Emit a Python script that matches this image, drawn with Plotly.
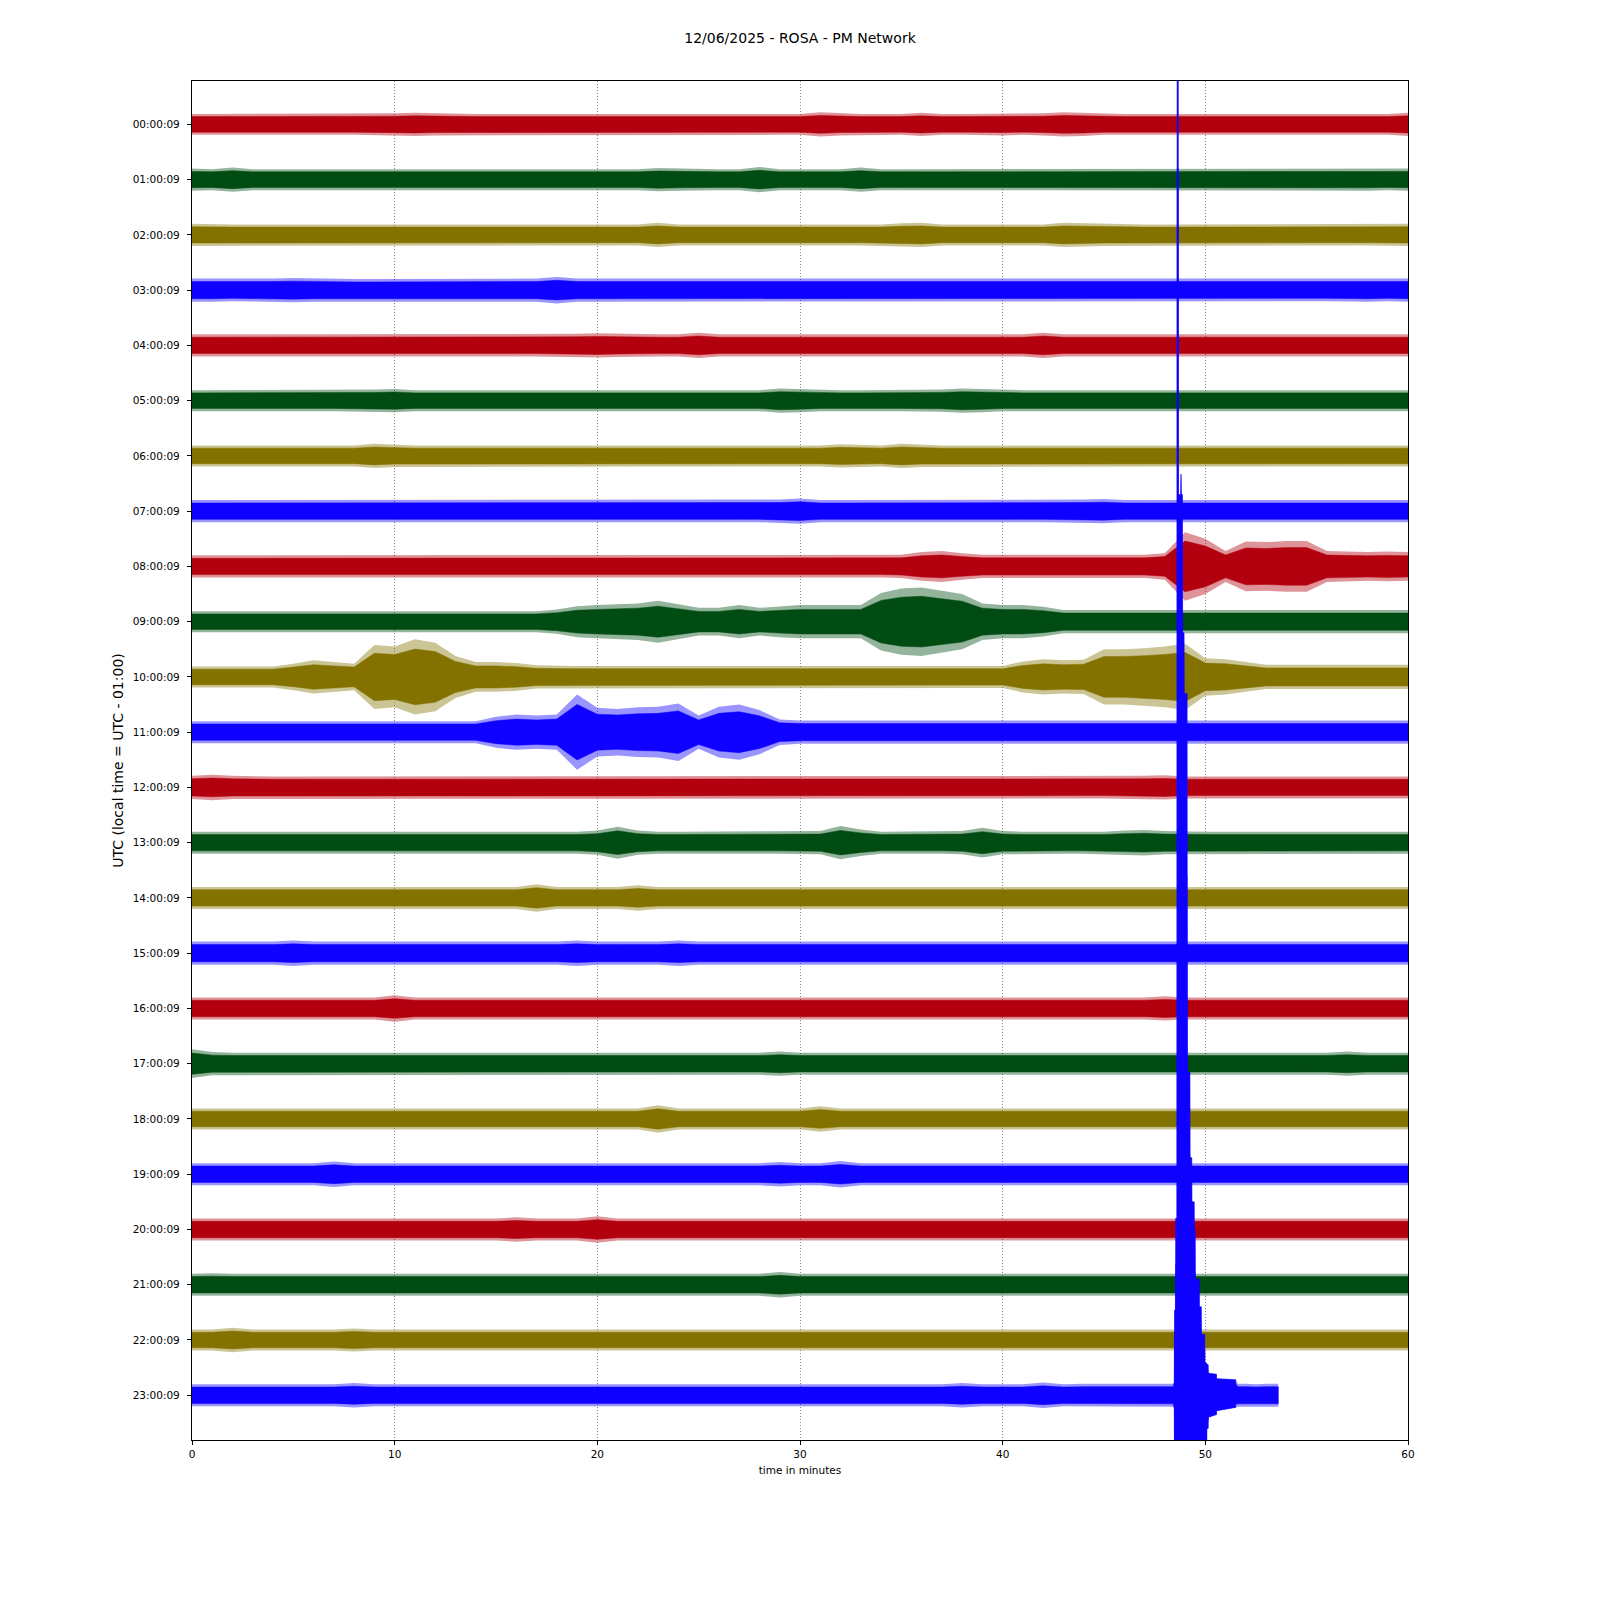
import plotly.graph_objects as go

# ---------------- data ----------------
minutes = list(range(61))

hour_labels = ["00:00:09", "01:00:09", "02:00:09", "03:00:09", "04:00:09", "05:00:09",
               "06:00:09", "07:00:09", "08:00:09", "09:00:09", "10:00:09", "11:00:09",
               "12:00:09", "13:00:09", "14:00:09", "15:00:09", "16:00:09", "17:00:09",
               "18:00:09", "19:00:09", "20:00:09", "21:00:09", "22:00:09", "23:00:09"]

trace_colors = ["#B2000F", "#004C12", "#847200", "#0E01FF"]

# half-amplitude envelope of each hourly line, per minute, in 1/100 of the line spacing
amp_00 = [19,19,20,19,19,19,19,19,19,20, 20,21,20,19,19,19,19,19,19,19, 20,19,19,19,19,19,19,19,19,19,
          19,22,20,19,19,19,21,19,19,19, 20,19,20,22,21,19,19,19,19,19, 19,19,19,19,20,20,19,19,19,19, 21]
amp_01 = [20,19,22,19,19,19,19,19,19,19, 19,19,19,19,19,19,19,19,19,19, 19,19,19,21,20,19,19,19,23,19,
          19,19,19,22,19,19,19,19,19,19, 19,19,19,19,19,19,19,19,20,19, 19,19,19,19,19,19,19,20,20,19, 20]
amp_02 = [20,19,19,19,19,19,19,19,19,19, 20,19,19,19,19,19,19,19,19,19, 19,19,19,22,19,19,19,19,19,19,
          19,19,19,19,19,21,22,19,19,19, 19,19,19,22,21,20,19,19,19,19, 19,19,19,19,19,20,19,19,19,19, 20]
amp_03 = [21,21,20,20,21,22,21,20,20,20, 20,20,20,20,20,21,21,21,24,21, 21,21,21,21,20,20,20,20,21,20,
          20,20,20,20,21,20,20,20,20,20, 20,20,20,20,20,20,20,20,21,20, 20,20,20,20,20,20,20,20,21,20, 21]
amp_04 = [20,20,21,20,20,20,20,20,20,20, 20,20,20,20,20,20,20,20,20,21, 22,21,20,20,20,23,20,20,20,20,
          20,20,20,20,20,20,20,20,20,20, 20,20,23,20,20,20,20,20,20,20, 20,20,20,20,20,20,20,20,20,20, 20]
amp_05 = [19,19,19,19,19,19,19,19,20,20, 21,19,19,19,19,19,19,19,19,19, 19,19,19,19,19,19,19,19,19,22,
          21,19,19,19,19,19,19,20,22,21, 19,19,19,19,19,19,19,19,19,19, 19,19,19,19,19,19,19,19,19,19, 19]
amp_06 = [19,19,19,19,19,19,19,19,19,22, 20,19,19,19,19,19,19,19,19,19, 19,19,19,19,19,19,19,19,19,19,
          19,19,21,20,19,22,20,19,19,19, 19,19,19,19,19,19,19,19,19,19, 19,19,19,19,19,19,19,19,19,19, 19]
amp_07 = [20,20,20,20,20,20,20,20,20,20, 20,20,20,20,20,21,20,20,20,20, 20,20,20,20,20,20,20,20,20,21,
          23,20,20,20,20,20,20,20,20,20, 20,20,20,20,21,22,20,20,20,20, 20,20,20,20,20,20,20,20,20,20, 20]
amp_08 = [20,20,20,20,20,20,20,20,20,20, 20,20,20,20,20,20,20,20,20,20, 21,20,20,20,20,20,20,20,20,20,
          20,20,20,20,20,21,26,28,24,21, 21,21,21,21,21,21,21,21,24,62, 50,28,45,44,46,46,28,27,26,27, 26]
amp_09 = [19,19,19,19,19,19,19,19,19,19, 19,19,19,19,19,19,19,19,22,28, 30,32,33,38,32,25,25,30,25,28,
          30,30,30,30,52,60,62,56,50,33, 30,30,27,21,21,21,21,21,21,21, 21,21,21,21,21,21,21,21,21,21, 21]
amp_10 = [19,19,19,19,19,24,30,27,24,58, 55,68,62,38,27,27,25,21,20,20, 20,20,20,20,20,20,20,20,20,20,
          20,20,20,20,20,20,20,20,20,20, 20,28,32,30,31,50,50,52,55,60, 34,32,27,22,22,22,22,22,22,22, 22]
amp_11 = [20,20,20,20,20,20,20,20,20,20, 20,20,20,20,20,28,32,30,32,68, 44,42,45,46,52,30,46,50,40,23,
          21,21,21,21,21,21,21,21,21,21, 21,21,21,21,21,21,21,21,22,21, 21,21,21,21,21,21,21,21,21,21, 21]
amp_12 = [21,23,21,20,20,20,20,20,20,20, 20,20,20,20,20,20,20,20,20,20, 20,20,20,20,20,20,20,20,20,20,
          20,20,20,20,20,20,20,20,20,20, 20,20,20,20,20,20,20,21,22,20, 20,20,20,20,20,20,20,20,20,20, 20]
amp_13 = [20,20,20,20,20,21,21,21,21,20, 20,20,20,20,20,20,20,20,20,20, 22,29,22,20,20,20,20,20,20,20,
          20,21,30,24,20,20,20,20,21,27, 21,20,20,20,20,20,22,23,21,20, 20,20,20,20,20,20,20,20,20,20, 20]
amp_14 = [20,20,20,20,20,20,20,20,20,20, 20,20,20,20,20,20,20,25,20,20, 20,20,23,20,20,20,20,20,20,20,
          20,20,20,20,20,20,20,20,20,20, 20,20,20,20,20,20,20,20,21,20, 20,20,20,20,20,20,20,20,20,20, 20]
amp_15 = [21,21,21,21,21,23,21,21,21,21, 21,21,21,21,21,21,21,21,21,23, 21,21,21,21,23,21,21,21,21,21,
          21,21,21,21,21,21,22,22,22,22, 21,21,21,21,21,21,21,21,21,21, 21,21,21,21,21,21,21,21,21,21, 21]
amp_16 = [20,20,20,20,20,20,20,20,20,20, 24,20,20,20,20,20,20,20,20,20, 20,20,20,20,20,20,20,20,20,20,
          20,20,20,20,20,20,21,20,20,20, 20,20,20,20,20,20,20,20,22,20, 20,20,20,20,20,20,20,20,20,20, 20]
amp_17 = [26,21,20,20,20,20,20,20,20,20, 20,20,20,20,20,20,20,20,20,20, 20,20,20,20,20,21,20,20,20,22,
          20,20,20,20,20,20,20,20,20,20, 20,20,20,20,20,20,20,20,20,20, 20,20,20,20,20,20,20,22,20,20, 20]
amp_18 = [19,19,19,19,19,19,19,19,19,19, 19,19,19,19,19,19,19,19,19,19, 19,19,19,25,19,19,19,19,19,19,
          19,23,19,19,19,19,19,19,19,19, 19,19,19,19,19,19,19,19,19,19, 19,19,19,19,19,19,19,19,19,19, 19]
amp_19 = [20,20,20,20,20,20,20,23,20,20, 20,20,20,20,20,20,20,20,20,20, 20,20,20,20,20,20,20,20,20,22,
          20,20,24,20,20,20,20,20,20,20, 20,20,20,20,20,20,20,20,20,21, 21,20,20,20,20,20,20,20,20,20, 20]
amp_20 = [20,20,20,20,20,20,20,20,20,20, 20,20,20,20,20,20,22,20,20,20, 24,20,20,20,20,20,20,20,20,20,
          20,20,20,20,20,20,20,20,20,20, 20,20,20,20,20,20,20,20,20,20, 20,20,20,20,20,20,20,20,20,20, 20]
amp_21 = [20,21,20,20,20,20,20,21,21,21, 20,20,20,20,20,20,20,20,20,20, 20,20,20,20,20,20,20,20,20,23,
          20,20,20,20,20,20,20,20,20,20, 20,20,20,20,20,20,20,20,20,20, 20,20,20,20,20,20,20,20,20,20, 20]
amp_22 = [19,19,22,19,19,19,19,19,21,19, 19,19,19,19,19,19,19,19,19,19, 19,19,19,19,19,19,19,19,19,19,
          19,19,19,19,19,19,19,19,19,19, 19,19,19,19,19,19,19,19,19,19, 19,19,19,19,19,19,19,19,19,19, 19]
# last (current) hour: minutes 0..48, then the earthquake record until the end of data
amp_23 = [20,20,20,20,20,20,20,20,22,20, 20,20,20,20,20,20,20,20,21,20, 20,20,20,20,20,20,20,20,20,20,
          20,20,20,21,20,20,20,20,22,20, 20,20,23,20,21,21,21,21,21]

# earthquake in the 23:00 line (times in minutes, amplitudes in 1/100 of line spacing)
eq_t  = [48.42, 48.47, 48.48, 48.53, 48.54, 48.60, 48.61, 48.66, 48.67, 48.78, 48.80, 48.82,
         48.87, 48.88, 48.95, 48.96, 49.10, 49.11, 49.24, 49.25, 49.33, 49.34, 49.45, 49.46,
         49.50, 49.51, 49.70, 49.71, 49.80, 49.81, 49.97, 49.98, 50.06, 50.07, 50.14, 50.15,
         50.55, 50.56, 51.50, 51.60, 52.00, 52.50, 53.00, 53.60]
eq_up = [21, 21, 154, 154, 320, 320, 3000, 3000, 1630, 1630, 1667, 1630,
         1630, 1380, 1380, 1270, 1270, 585, 585, 430, 430, 350, 350, 300,
         300, 210, 210, 160, 160, 110, 110, 60, 58, 56, 55, 40,
         38, 30, 28, 21, 21, 20, 21, 21]
eq_dn = [21, 21, 150, 150, 150, 150, 150, 150, 150, 150, 150, 150,
         150, 150, 150, 150, 150, 150, 150, 150, 150, 150, 150, 150,
         150, 150, 150, 150, 150, 150, 150, 150, 150, 60, 60, 40,
         35, 28, 22, 21, 21, 20, 21, 21]

amp_rows = [amp_00, amp_01, amp_02, amp_03, amp_04, amp_05, amp_06, amp_07, amp_08, amp_09,
            amp_10, amp_11, amp_12, amp_13, amp_14, amp_15, amp_16, amp_17, amp_18, amp_19,
            amp_20, amp_21, amp_22]

# ---------------- figure ----------------
fig = go.Figure()

CORE = 0.74      # rendering: solid core of the noise band vs. its spiky fringe


def rgba(hexcol, a):
    h = hexcol.lstrip("#")
    return "rgba(%d,%d,%d,%.2f)" % (int(h[0:2], 16), int(h[2:4], 16), int(h[4:6], 16), a)


def band_path(row, xs, up, dn, k):
    px = list(xs) + list(xs)[::-1]
    py = [row - k * a / 100.0 for a in up] + [row + k * a / 100.0 for a in dn][::-1]
    return px, py


def add_band(row, xs, up, dn, color):
    # fringe (spikes) - partially covered
    px, py = band_path(row, xs, up, dn, 1.0)
    fig.add_trace(go.Scatter(
        x=px, y=py, mode="lines", fill="toself", fillcolor=rgba(color, 0.42),
        line=dict(width=0), hoverinfo="skip", showlegend=False))
    # dense core
    px, py = band_path(row, xs, up, dn, CORE)
    fig.add_trace(go.Scatter(
        x=px, y=py, mode="lines", fill="toself", fillcolor=color,
        line=dict(color=color, width=0.5), hoverinfo="skip", showlegend=False))


for r, amp in enumerate(amp_rows):
    add_band(r, minutes, amp, amp, trace_colors[r % 4])

last_x = minutes[:len(amp_23)] + eq_t
last_up = amp_23 + eq_up
last_dn = amp_23 + eq_dn
add_band(23, last_x, last_up, last_dn, trace_colors[23 % 4])

# the large earthquake excursions are drawn solid
n_strong = 39
eq_px = eq_t[:n_strong] + eq_t[:n_strong][::-1]
eq_py = [23 - a / 100.0 for a in eq_up[:n_strong]] + [23 + a / 100.0 for a in eq_dn[:n_strong]][::-1]
fig.add_trace(go.Scatter(
    x=eq_px, y=eq_py, mode="lines", fill="toself", fillcolor=trace_colors[3],
    line=dict(color=trace_colors[3], width=0.6), hoverinfo="skip", showlegend=False))

font_family = "DejaVu Sans, Liberation Sans, sans-serif"

fig.update_layout(
    width=1600, height=1600,
    paper_bgcolor="white", plot_bgcolor="white",
    margin=dict(l=184, r=200, t=73, b=168),
    font=dict(family=font_family, color="black", size=10.5),
    title=dict(text="12/06/2025 - ROSA - PM Network", x=(184 + 608) / 1600, xanchor="center",
               y=1 - 30 / 1600, yanchor="middle", yref="container",
               font=dict(size=14, family=font_family, color="black")),
    showlegend=False,
)

fig.update_xaxes(
    range=[0, 60], tickvals=[0, 10, 20, 30, 40, 50, 60],
    ticks="outside", ticklen=4, tickwidth=1, tickcolor="black",
    showline=True, linecolor="black", linewidth=1.2, mirror=True,
    showgrid=True, gridcolor="#8a8a8a", gridwidth=0.8, griddash="1px,2px",
    zeroline=False, tickfont=dict(size=10.5),
    title=dict(text="time in minutes", font=dict(size=10.5), standoff=7),
)

fig.update_yaxes(
    range=[23.81, -0.785], tickvals=list(range(24)), ticktext=hour_labels,
    ticks="outside", ticklen=4, tickwidth=1, tickcolor="black",
    showline=True, linecolor="black", linewidth=1.2, mirror=True,
    showgrid=False, zeroline=False, tickfont=dict(size=10.5), ticklabelstandoff=5,
    title=dict(text="UTC (local time = UTC - 01:00)", font=dict(size=14), standoff=5),
)

fig.write_html("out.html")
